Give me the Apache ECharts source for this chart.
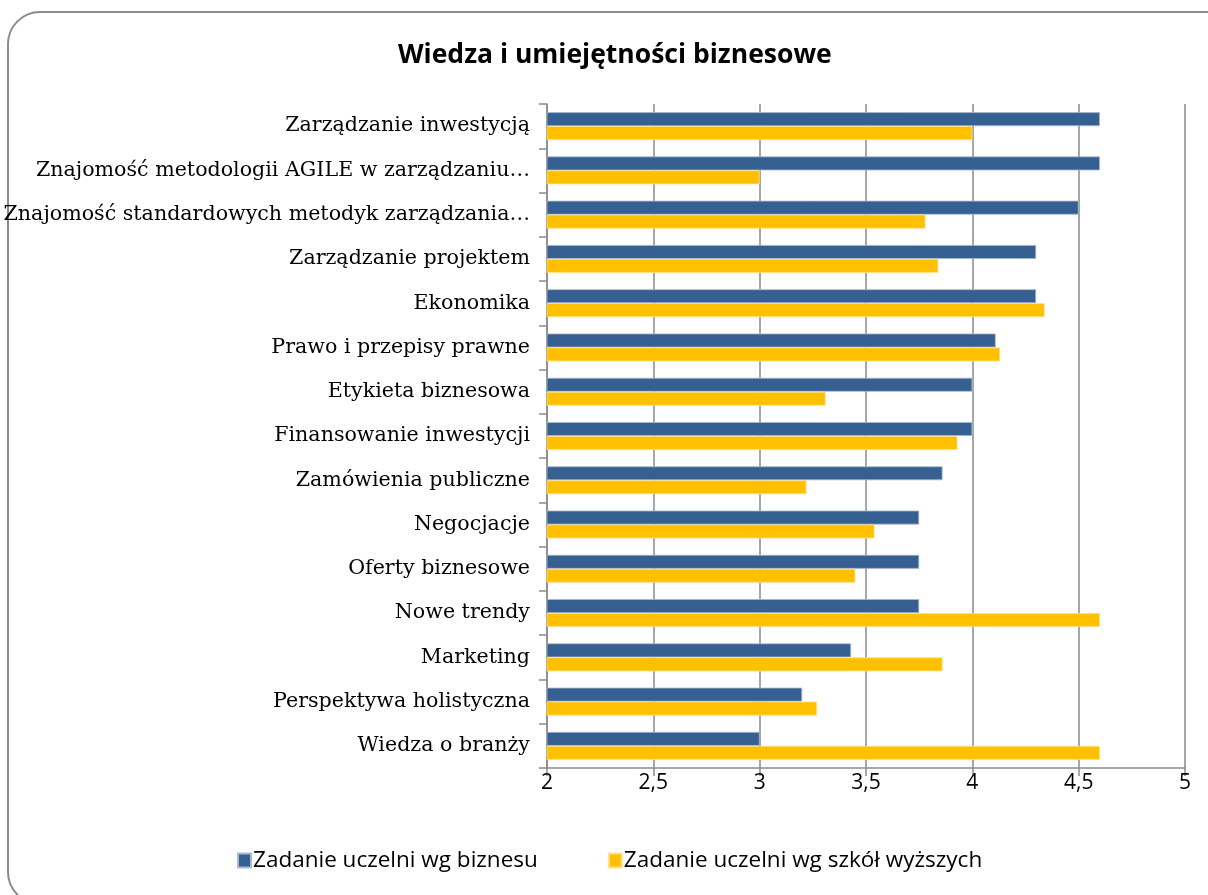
<!DOCTYPE html>
<html>
<head>
<meta charset="utf-8">
<script src="https://cdn.jsdelivr.net/npm/echarts@6/dist/echarts.min.js"></script>
<style>
html,body{margin:0;padding:0;background:#fff;}
#chart{width:1208px;height:895px;}
</style>
</head>
<body>
<div id="chart"></div>
<script>
const categories = [
  "Zarządzanie inwestycją",
  "Znajomość metodologii AGILE w zarządzaniu…",
  "Znajomość standardowych metodyk zarządzania…",
  "Zarządzanie projektem",
  "Ekonomika",
  "Prawo i przepisy prawne",
  "Etykieta biznesowa",
  "Finansowanie inwestycji",
  "Zamówienia publiczne",
  "Negocjacje",
  "Oferty biznesowe",
  "Nowe trendy",
  "Marketing",
  "Perspektywa holistyczna",
  "Wiedza o branży"
];
const seriesNames = ["Zadanie uczelni wg biznesu", "Zadanie uczelni wg szkół wyższych"];
const businessValues = [4.6, 4.6, 4.5, 4.3, 4.3, 4.11, 4.0, 4.0, 3.86, 3.75, 3.75, 3.75, 3.43, 3.2, 3.0];
const universityValues = [4.0, 3.0, 3.78, 3.84, 4.34, 4.13, 3.31, 3.93, 3.22, 3.54, 3.45, 4.6, 3.86, 3.27, 4.6];
const xTicks = { min: 2, max: 5, interval: 0.5 };
const titleText = "Wiedza i umiejętności biznesowe";

const chart = echarts.init(document.getElementById('chart'), null, {renderer: 'canvas'});
const gray = '#8a8a8a';
chart.setOption({
  animation: false,
  backgroundColor: '#ffffff',
  graphic: [{
    type: 'rect',
    shape: {x: 8, y: 12, width: 1230, height: 892, r: 32},
    style: {fill: 'none', stroke: '#8c8c8c', lineWidth: 2},
    silent: true, z: -10
  }],
  title: {
    text: titleText,
    left: 393,
    top: 37,
    textStyle: {fontFamily: 'Open Sans', fontWeight: 'bold', fontSize: 26.5, color: '#000'}
  },
  legend: {
    data: seriesNames,
    left: 237,
    top: 849,
    padding: 0,
    itemWidth: 13,
    itemHeight: 14,
    itemGap: 70,
    icon: 'rect',
    textStyle: {fontFamily: 'Open Sans', fontSize: 22.5, color: '#000', padding: [0,0,0,-3]}
  },
  grid: {left: 547, right: 23, top: 104, bottom: 127, containLabel: false, outerBoundsMode: 'none'},
  xAxis: {
    type: 'value',
    min: xTicks.min, max: xTicks.max, interval: xTicks.interval,
    axisLine: {show: true, lineStyle: {color: gray, width: 1.5}},
    axisTick: {show: true, length: 8, lineStyle: {color: gray, width: 1.5}},
    splitLine: {show: true, lineStyle: {color: gray, width: 1.5}},
    axisLabel: {
      margin: 5,
      fontFamily: 'Open Sans', fontSize: 21, color: '#000',
      formatter: v => String(v).replace('.', ',')
    }
  },
  yAxis: {
    type: 'category',
    data: categories,
    inverse: true,
    axisLine: {show: true, lineStyle: {color: gray, width: 1.5}},
    axisTick: {show: true, length: 8, lineStyle: {color: gray, width: 1.5}},
    splitLine: {show: false},
    axisLabel: {margin: 17, fontFamily: 'DejaVu Serif', fontSize: 20.6, color: '#000'}
  },
  series: [
    {
      name: seriesNames[0], type: 'bar', data: businessValues,
      barGap: '0%', barCategoryGap: '37%',
      itemStyle: {color: '#376092', borderColor: '#a9b9cf', borderWidth: 0.8}
    },
    {
      name: seriesNames[1], type: 'bar', data: universityValues,
      barGap: '0%', barCategoryGap: '37%',
      itemStyle: {color: '#FFC000', borderColor: '#ffe08a', borderWidth: 0.8}
    }
  ]
});
</script>
</body>
</html>
